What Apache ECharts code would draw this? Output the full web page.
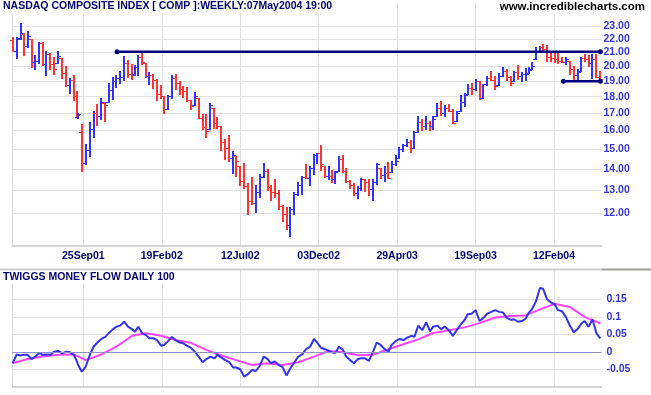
<!DOCTYPE html>
<html><head><meta charset="utf-8">
<script src="https://cdn.jsdelivr.net/npm/echarts@6/dist/echarts.min.js"></script>
<style>html,body{margin:0;padding:0;background:#fff}#c{width:651px;height:395px}</style>
</head><body><div id="c"></div>
<script>
// ---------- data ----------
const firstDay = '2001-05-11';
const lastDay = '2004-05-07';
const marketHolidays = [
 '2001-05-28','2001-07-04','2001-09-03','2001-09-11','2001-09-12','2001-09-13','2001-09-14','2001-11-22','2001-12-25',
 '2002-01-01','2002-01-21','2002-02-18','2002-03-29','2002-05-27','2002-07-04','2002-09-02','2002-11-28','2002-12-25',
 '2003-01-01','2003-01-20','2003-02-17','2003-04-18','2003-05-26','2003-07-04','2003-09-01','2003-11-27','2003-12-25',
 '2004-01-01','2004-01-19','2004-02-16','2004-04-09'];
const xTickLabels = ['25Sep01','19Feb02','12Jul02','03Dec02','29Apr03','19Sep03','12Feb04'];
const priceTicks = [12,13,14,15,16,17,18,19,20,21,22,23];
const mfTicks = [-0.05,0,0.05,0.1,0.15];

const opens = [
 21.95,21.12,22.05,22.40,21.50,22.00,20.30,20.40,21.70,20.17,
 20.88,20.17,20.25,20.60,19.57,18.72,19.10,18.02,16.80,15.90,
 14.30,14.97,16.07,17.00,16.81,17.60,17.70,18.40,18.98,19.21,
 19.30,20.24,19.45,19.45,19.93,20.64,20.24,19.33,19.40,19.10,
 18.19,18.02,17.27,18.02,19.21,18.87,18.51,18.38,17.78,17.51,
 17.92,16.72,16.20,16.07,17.31,16.45,16.26,15.36,15.04,14.56,
 14.64,14.15,13.42,13.18,12.51,12.44,12.94,13.63,13.90,13.13,
 12.91,12.87,12.29,11.96,11.51,12.17,12.84,13.26,13.62,13.57,
 14.03,14.68,14.79,14.15,13.66,13.68,13.50,13.90,14.48,13.90,
 13.42,13.23,12.87,13.10,13.50,13.37,13.05,13.40,14.03,13.69,
 13.82,13.87,14.25,14.56,15.02,15.20,15.38,15.08,15.94,16.50,
 16.27,16.44,16.25,16.85,17.33,17.00,17.31,17.15,16.54,17.10,
 17.65,18.19,18.58,18.49,19.02,17.92,18.80,19.21,19.10,18.77,
 19.33,19.70,19.30,18.98,19.60,19.37,19.49,19.57,19.81,20.52,
 21.00,21.40,21.24,20.66,20.60,20.50,20.37,20.30,20.40,19.85,
 19.40,19.69,20.57,20.52,20.24,20.49,19.30];
const highs = [
 22.18,22.18,23.26,22.44,22.64,22.03,20.81,21.81,21.81,21.10,
 20.95,20.69,21.10,20.62,20.05,19.21,19.38,18.38,17.00,16.35,
 15.28,16.48,17.10,17.57,17.94,17.67,18.89,19.26,19.43,19.69,
 20.71,20.45,20.17,20.10,20.79,21.05,20.24,19.64,19.50,19.12,
 18.74,18.06,18.09,19.38,19.50,19.00,18.66,18.64,17.78,18.32,
 17.92,16.94,16.94,17.63,17.31,16.78,16.26,15.56,15.74,14.89,
 14.64,14.15,14.31,13.34,13.61,13.26,13.74,14.30,13.98,13.23,
 13.50,13.02,12.36,12.25,12.25,12.90,13.37,13.65,14.23,14.15,
 14.75,14.80,15.24,14.15,14.15,13.95,13.90,14.64,14.72,14.03,
 13.47,13.34,13.18,13.58,13.53,13.53,13.50,14.28,14.03,14.15,
 14.33,14.39,14.72,15.10,15.28,15.56,15.50,15.98,16.85,16.63,
 16.85,16.57,16.85,17.61,17.76,17.47,17.57,17.24,17.10,18.12,
 18.23,18.83,18.87,19.14,19.02,18.83,19.33,19.69,19.33,19.57,
 19.93,19.81,19.33,19.69,20.10,19.60,19.86,19.93,20.29,21.43,
 21.48,21.60,21.55,20.93,20.93,21.00,20.64,20.69,20.40,20.05,
 19.81,20.64,20.88,20.83,20.88,20.88,19.69];
const lows = [
 21.07,20.62,22.02,20.83,21.40,19.98,19.81,20.24,20.12,19.40,
 19.81,19.45,20.21,19.21,18.66,18.21,17.78,16.81,16.72,13.90,
 14.26,14.64,15.65,16.30,16.63,16.54,17.67,17.84,18.60,18.91,
 19.05,19.31,19.17,19.43,19.40,20.17,19.26,18.83,18.55,17.78,
 17.92,16.98,17.27,17.92,18.47,18.17,17.98,17.71,17.24,17.51,
 16.69,16.11,15.65,16.07,16.17,16.17,14.97,14.49,14.39,13.81,
 13.66,13.26,13.10,11.96,12.39,12.07,12.72,13.61,13.02,12.56,
 12.72,12.19,11.69,11.37,11.07,11.97,12.80,12.84,13.55,13.23,
 13.74,14.31,13.95,13.63,13.50,13.39,13.34,13.90,13.85,13.38,
 13.10,12.80,12.65,13.02,12.97,12.80,12.55,13.29,13.58,13.42,
 13.55,13.87,14.20,14.56,14.89,15.15,14.85,15.06,15.94,16.02,
 16.07,16.02,16.07,16.85,16.91,16.81,17.10,16.40,16.54,17.10,
 17.41,18.19,18.19,18.45,17.88,17.92,18.77,19.05,18.51,18.77,
 19.33,19.10,18.77,18.98,19.17,18.98,19.10,19.57,19.81,20.52,
 21.00,21.12,20.40,20.40,20.29,20.21,20.29,20.17,19.50,19.10,
 19.00,19.69,20.40,20.05,19.21,19.25,19.10];
const closes = [
 21.12,22.02,22.46,21.48,22.20,20.29,20.40,21.71,20.17,20.88,
 20.17,19.81,20.76,19.57,18.72,19.10,18.02,16.91,16.96,14.30,
 14.97,16.07,17.00,16.81,17.67,17.47,18.40,18.98,19.21,19.30,
 20.24,19.45,19.40,19.93,20.64,20.29,19.33,19.40,19.10,18.19,
 18.02,17.24,18.02,19.21,18.87,18.51,18.38,17.82,17.41,18.02,
 16.72,16.20,15.98,17.51,16.45,16.26,15.36,15.04,14.56,14.72,
 14.39,13.42,13.18,12.51,12.44,12.94,13.63,13.90,13.13,12.91,
 12.87,12.29,11.96,11.51,12.17,12.84,13.26,13.62,13.57,14.03,
 14.68,14.79,14.22,13.66,13.68,13.50,13.87,14.48,13.90,13.42,
 13.23,12.87,13.10,13.50,13.37,13.05,13.40,14.23,13.69,13.82,
 13.58,14.25,14.40,15.02,15.20,15.38,15.08,15.94,16.50,16.27,
 16.44,16.25,16.64,17.33,17.00,17.31,17.15,16.44,17.00,17.65,
 18.12,18.58,18.49,19.02,17.92,18.80,19.21,19.10,18.66,19.32,
 19.70,19.30,18.87,19.60,19.37,19.49,19.51,19.74,20.06,21.00,
 21.40,21.24,20.66,20.60,20.50,20.37,20.30,20.55,19.85,19.40,
 19.60,20.57,20.52,20.24,20.49,19.30,19.15];
const moneyFlow = [
 -0.032,-0.007,-0.010,-0.008,-0.008,-0.020,-0.013,-0.002,-0.008,-0.007,
 -0.008,0.001,0.003,-0.004,0.001,-0.001,-0.008,-0.027,-0.035,-0.056,
 -0.042,-0.010,0.015,0.027,0.037,0.043,0.055,0.065,0.072,0.075,
 0.086,0.072,0.065,0.058,0.072,0.053,0.048,0.039,0.039,0.034,
 0.018,0.020,0.031,0.043,0.033,0.027,0.025,0.018,0.012,0.001,
 -0.013,-0.029,-0.020,-0.013,-0.018,-0.008,-0.016,-0.023,-0.029,-0.044,
 -0.044,-0.049,-0.070,-0.063,-0.051,-0.054,-0.039,-0.013,-0.020,-0.032,
 -0.027,-0.037,-0.043,-0.067,-0.046,-0.029,-0.013,-0.007,0.008,0.015,
 0.037,0.027,0.012,0.008,0.003,-0.001,-0.003,0.015,0.006,-0.013,
 -0.023,-0.032,-0.020,-0.018,-0.018,-0.025,-0.001,0.027,0.020,0.008,
 0.001,0.020,0.031,0.037,0.034,0.041,0.046,0.043,0.075,0.062,
 0.084,0.059,0.072,0.075,0.065,0.072,0.062,0.046,0.062,0.078,
 0.091,0.107,0.109,0.119,0.088,0.097,0.109,0.114,0.119,0.114,
 0.112,0.097,0.091,0.093,0.086,0.088,0.095,0.112,0.122,0.144,
 0.182,0.180,0.150,0.141,0.135,0.119,0.116,0.100,0.076,0.056,
 0.065,0.081,0.088,0.072,0.093,0.053,0.039];
// signal line, read every 4th weekly bar
const moneyFlowSignalStep = 4;
const moneyFlowSignal = [
 -0.032,-0.020,-0.013,-0.008,-0.007,-0.023,-0.007,0.015,0.046,0.053,
 0.046,0.034,0.026,0.006,-0.010,-0.023,-0.037,-0.032,-0.037,-0.029,
 -0.013,0.003,-0.001,-0.009,-0.008,0.008,0.022,0.036,0.054,0.062,
 0.070,0.082,0.098,0.102,0.104,0.121,0.137,0.128,0.100,0.081];
const resistanceLine = {from:'2001-11-26', to:'2004-05-07', value:21.05};
const supportLine = {from:'2004-03-02', to:'2004-05-07', value:19.0};

// ---------- trading calendar (x axis = trading-day index) ----------
function ymd(d){ return d.toISOString().slice(0,10); }
function mondayOf(s){ const d=new Date(s+'T00:00:00Z'); const wd=d.getUTCDay(); d.setUTCDate(d.getUTCDate()-((wd+6)%7)); return ymd(d); }
const tradingDays=[]; const dayIndex={};
for (let d=new Date(firstDay+'T00:00:00Z'); ymd(d)<=lastDay; d.setUTCDate(d.getUTCDate()+1)) {
  const wd=d.getUTCDay(); if (wd===0||wd===6) continue;
  const s=ymd(d); if (marketHolidays.includes(s)) continue;
  dayIndex[s]=tradingDays.length; tradingDays.push(s);
}
const weekPos=[];
tradingDays.forEach((s,i)=>{ const n=tradingDays[i+1]; if(!n || mondayOf(n)!==mondayOf(s)) weekPos.push(i); });
if (weekPos.length!==highs.length) throw new Error('weeks '+weekPos.length+' vs '+highs.length);
const MON={Jan:0,Feb:1,Mar:2,Apr:3,May:4,Jun:5,Jul:6,Aug:7,Sep:8,Oct:9,Nov:10,Dec:11};
function labelToDate(l){ return ymd(new Date(Date.UTC(2000+(+l.slice(5,7)), MON[l.slice(2,5)], +l.slice(0,2)))); }
const xTickPos = xTickLabels.map(l=>dayIndex[labelToDate(l)]);
const xLabelMap = {}; xTickPos.forEach((p,i)=>xLabelMap[p]=xTickLabels[i]);

const BLUE='#3333ff', RED='#ff3333';
const ohlc = highs.map((h,i)=>{
  const prev = i>0 ? closes[i-1] : opens[i];
  return [weekPos[i], opens[i], h, lows[i], closes[i], closes[i]>=prev ? 1 : 0];
});

const FONT='Liberation Sans, Arial, sans-serif';
const GRID='#e0e0e0';
const xMin=-0.5, xMax=tradingDays.length+0.5;
const pMin=10.727, pMax=25;
function xAxisCfg(gi, showLabel){
  return {gridIndex:gi, type:'value', min:xMin, max:xMax,
    axisLine:{show:true, onZero:false, lineStyle:{color:'#d4d4d4', width:2}},
    axisTick:{show:false, customValues:xTickPos},
    axisLabel:{show:showLabel, customValues:xTickPos, formatter:v=>xLabelMap[Math.round(v)]||'',
      color:'#00006e', fontWeight:'bold', fontSize:10.5, fontFamily:FONT, margin:5},
    splitLine:{show:true, lineStyle:{color:GRID, width:1}}};
}
const option = {
  animation:false,
  backgroundColor:'#fff',
  title:[
    {text:'NASDAQ COMPOSITE INDEX [ COMP ]:WEEKLY:07May2004 19:00', left:1, top:0, padding:[1,2,1,2], backgroundColor:'#fff',
     textStyle:{fontSize:10.5, fontWeight:'bold', color:'#000070', fontFamily:FONT}},
    {text:'www.incrediblecharts.com', right:4, top:0, padding:[1,2,1,2], backgroundColor:'#fff',
     textStyle:{fontSize:11.5, fontWeight:'bold', color:'#000', fontFamily:FONT}},
    {text:'TWIGGS MONEY FLOW DAILY 100', left:1, top:271, padding:[1,2,1,2], backgroundColor:'#fff',
     textStyle:{fontSize:10.5, fontWeight:'bold', color:'#000070', fontFamily:FONT}}
  ],
  grid:[{left:12.3, right:49.5, top:2.3, height:243.2}, {left:12.3, right:49.5, top:270, height:117.2}],
  xAxis:[xAxisCfg(0,true), xAxisCfg(1,false)],
  yAxis:[
    {gridIndex:0, type:'log', position:'right', min:pMin, max:pMax,
     axisLine:{show:true, lineStyle:{color:'#dcdcdc', width:1}},
     axisTick:{show:false, customValues:priceTicks},
     axisLabel:{customValues:priceTicks, formatter:v=>(+v).toFixed(2), color:'#3535d8', fontWeight:'bold', fontSize:10.5, fontFamily:FONT, margin:2},
     splitLine:{show:true, lineStyle:{color:GRID, width:1}}},
    {gridIndex:0, type:'log', position:'left', min:pMin, max:pMax,
     axisLine:{show:true, lineStyle:{color:'#dcdcdc', width:1}}, axisTick:{show:false}, axisLabel:{show:false}, splitLine:{show:false}},
    {gridIndex:1, type:'value', position:'right', min:-0.1, max:0.233,
     axisLine:{show:true, lineStyle:{color:'#dcdcdc', width:1}},
     axisTick:{show:false, customValues:mfTicks},
     axisLabel:{customValues:mfTicks, formatter:v=>String(Math.round(v*100)/100), color:'#3535d8', fontWeight:'bold', fontSize:10.5, fontFamily:FONT, margin:5},
     splitLine:{show:true, lineStyle:{color:GRID, width:1}}},
    {gridIndex:1, type:'value', position:'left', min:-0.1, max:0.233,
     axisLine:{show:true, lineStyle:{color:'#dcdcdc', width:1}}, axisTick:{show:false}, axisLabel:{show:false}, splitLine:{show:false}}
  ],
  graphic:[
    {type:'line', shape:{x1:0, y1:269.5, x2:601.5, y2:269.5}, style:{stroke:'#d0d0d0', lineWidth:2}, z:100},
    {type:'line', shape:{x1:601.5, y1:269.5, x2:651, y2:269.5}, style:{stroke:'#a0a098', lineWidth:2}, z:100}
  ],
  series:[
    {type:'custom', xAxisIndex:0, yAxisIndex:0, clip:false, data:ohlc, encode:{x:0, y:[1,2,3,4]},
     renderItem:(params, api)=>{
       const x=api.value(0);
       const pH=api.coord([x,api.value(2)]), pL=api.coord([x,api.value(3)]);
       const pO=api.coord([x,api.value(1)]), pC=api.coord([x,api.value(4)]);
       const col=api.value(5)?BLUE:RED;
       const px=Math.round(pH[0]);
       const oy=Math.round(pO[1])+0.5, cy=Math.round(pC[1])+0.5;
       return {type:'group', children:[
         {type:'line', shape:{x1:px, y1:Math.round(pH[1]), x2:px, y2:Math.round(pL[1])+1}, style:{stroke:col, lineWidth:2}},
         {type:'line', shape:{x1:px-3, y1:oy, x2:px, y2:oy}, style:{stroke:col, lineWidth:1}},
         {type:'line', shape:{x1:px, y1:cy, x2:px+3, y2:cy}, style:{stroke:col, lineWidth:1}}
       ]};
     }},
    {type:'line', xAxisIndex:0, yAxisIndex:0, symbol:'circle', symbolSize:5, showSymbol:true,
     itemStyle:{color:'#000080'}, lineStyle:{color:'#000080', width:2.5},
     data:[[dayIndex[resistanceLine.from], resistanceLine.value],[dayIndex[resistanceLine.to], resistanceLine.value]], z:5},
    {type:'line', xAxisIndex:0, yAxisIndex:0, symbol:'circle', symbolSize:5, showSymbol:true,
     itemStyle:{color:'#000080'}, lineStyle:{color:'#000080', width:2.5},
     data:[[dayIndex[supportLine.from], supportLine.value],[dayIndex[supportLine.to], supportLine.value]], z:5},
    {type:'line', xAxisIndex:1, yAxisIndex:2, showSymbol:false, symbol:'none',
     lineStyle:{color:'#ff44ff', width:2}, data:moneyFlowSignal.map((v,i)=>[weekPos[i*moneyFlowSignalStep], v]), z:3},
    {type:'line', xAxisIndex:1, yAxisIndex:2, showSymbol:false, symbol:'none',
     lineStyle:{color:'#3333ee', width:2}, data:moneyFlow.map((v,i)=>[weekPos[i], v]), z:4,
     markLine:{silent:true, symbol:'none', label:{show:false}, lineStyle:{color:'#9090c8', width:1, type:'solid'}, data:[{yAxis:0}]}}
  ]
};
const chart = echarts.init(document.getElementById('c'), null, {renderer:'canvas'});
chart.setOption(option);
</script></body></html>
